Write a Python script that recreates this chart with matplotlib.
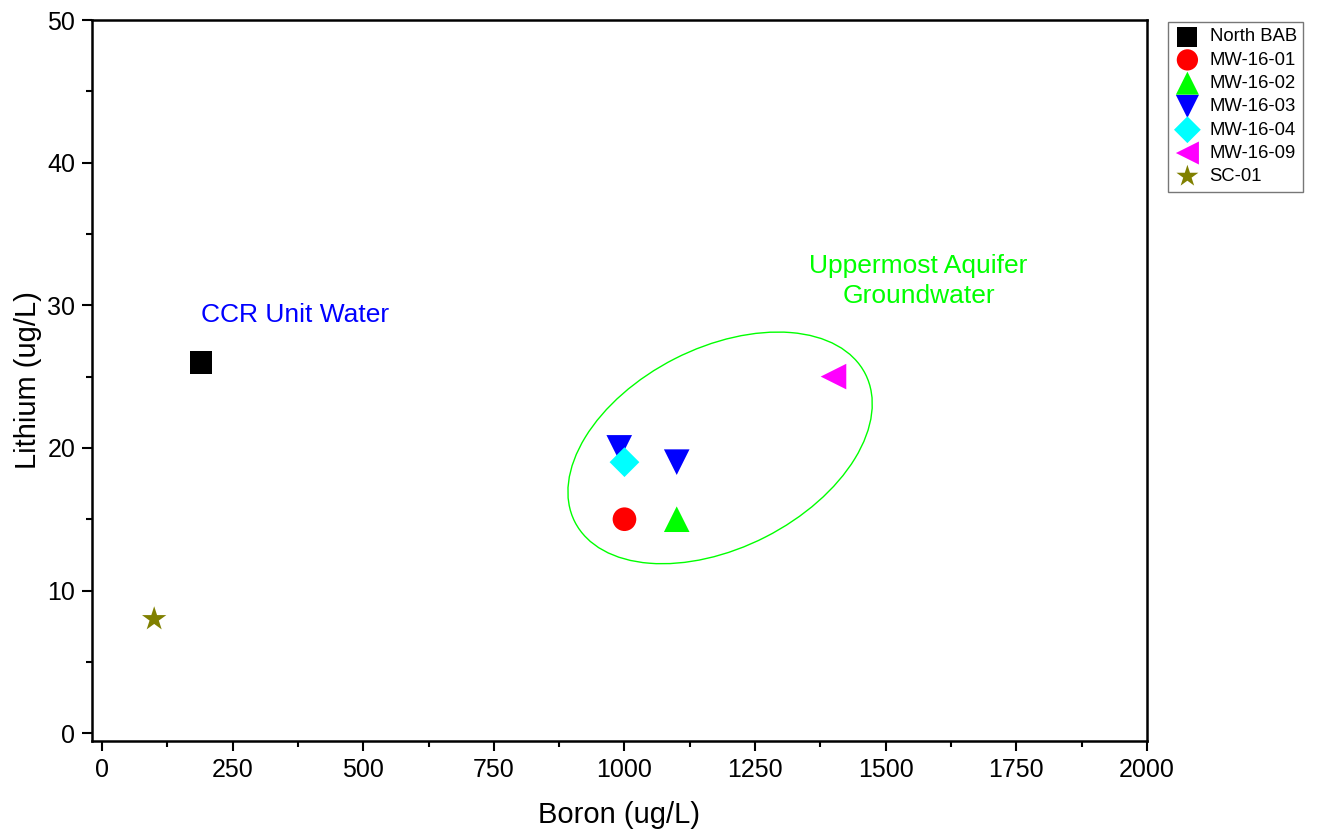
import matplotlib
matplotlib.use('Agg')
import matplotlib.pyplot as plt
from matplotlib.patches import Ellipse
from matplotlib.transforms import ScaledTranslation
from matplotlib.ticker import MultipleLocator

plt.rcParams['font.family'] = ['Liberation Sans', 'DejaVu Sans']

# sample sites, boron vs lithium (ug/L)
names = ['North BAB', 'MW-16-01', 'MW-16-02', 'MW-16-03', 'MW-16-04', 'MW-16-09', 'SC-01']
boron = [[190], [1000], [1100], [990, 1100], [1000], [1400], [100]]
lithium = [[26], [15], [15], [20, 19], [19], [25], [8]]
markers = ['s', 'o', '^', 'v', 'D', '<', '*']
colors = ['black', 'red', '#00ff00', 'blue', 'cyan', 'magenta', '#808000']
sizes = [260, 290, 340, 340, 230, 340, 340]

fig = plt.figure(figsize=(13.19, 8.34), dpi=100)
ax = fig.add_axes([92 / 1319, 93 / 834, (1147 - 92) / 1319, (741 - 20) / 834])

for n, bx, ly, m, c, s in zip(names, boron, lithium, markers, colors, sizes):
    ax.scatter(bx, ly, marker=m, s=s, color=c, edgecolors='none', label=n, zorder=3)

ax.set_xlim(-19, 2000)
ax.set_ylim(-0.55, 50)
ax.xaxis.set_major_locator(MultipleLocator(250))
ax.xaxis.set_minor_locator(MultipleLocator(125))
ax.yaxis.set_major_locator(MultipleLocator(10))
ax.yaxis.set_minor_locator(MultipleLocator(5))
ax.tick_params(which='major', direction='out', length=7, width=1.5, labelsize=18, pad=5)
ax.tick_params(which='minor', direction='out', length=4, width=1.5)
for sp in ax.spines.values():
    sp.set_linewidth(1.8)

ax.set_xlabel('Boron (ug/L)', fontsize=21, labelpad=14)
ax.set_ylabel('Lithium (ug/L)', fontsize=21, labelpad=4)

# outline around the groundwater wells
ring = Ellipse((0, 0), 3.26, 2.0, angle=27, fill=False, edgecolor='#00ff00', linewidth=1.0,
               transform=fig.dpi_scale_trans + ScaledTranslation(1183, 20.0, ax.transData))
ax.add_patch(ring)

ax.text(370, 29.3, 'CCR Unit Water', color='blue', fontsize=19, ha='center', va='center')
ax.text(1563, 31.7, 'Uppermost Aquifer\nGroundwater', color='#00ff00', fontsize=19,
        ha='center', va='center', linespacing=1.3)

leg = ax.legend(loc='upper left', bbox_to_anchor=(1168 / 1319, 1 - 22 / 834),
                bbox_transform=fig.transFigure, fontsize=13.3, frameon=True, fancybox=False,
                edgecolor='#555555', handletextpad=0.5, borderpad=0.35, labelspacing=0.34,
                markerscale=0.9, handlelength=1.4, borderaxespad=0)
leg.get_frame().set_linewidth(1.0)

fig.savefig('out.png', dpi=100)
